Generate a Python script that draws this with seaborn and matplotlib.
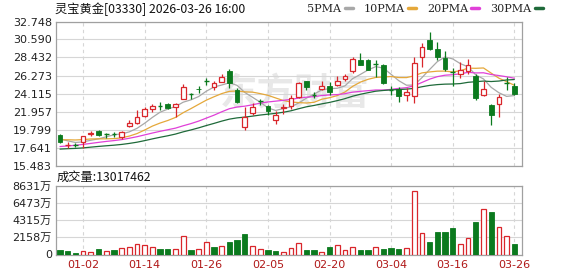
import numpy as np
import pandas as pd
import matplotlib
matplotlib.use("Agg")
import matplotlib.pyplot as plt
from matplotlib.lines import Line2D
import seaborn as sns

sns.set_style("white")
plt.rcParams["font.family"] = ["DejaVu Sans", "Noto Sans CJK SC"]

# ---------------- data ----------------
title = "灵宝黄金[03330] 2026-03-26 16:00"
vol_title = "成交量:13017462"

opens = [19.08, 17.95, 17.98, 18.32, 19.28, 19.56, 19.24, 19.20, 18.92, 20.16,
         20.57, 21.36, 22.28, 22.66, 22.88, 22.48, 23.48, 24.08, 24.68, 25.66,
         24.88, 25.55, 26.84, 24.50, 20.10, 21.83, 23.16, 22.64, 20.96, 22.40,
         22.56, 23.65, 25.60, 23.95, 24.68, 25.04, 25.16, 25.84, 26.84, 28.15,
         28.15, 27.68, 27.55, 24.56, 24.64, 23.96, 23.76, 28.48, 30.55, 29.44,
         28.36, 26.64, 26.50, 26.84, 26.24, 23.96, 22.76, 22.88, 25.40, 25.00]
highs = [19.28, 18.30, 18.20, 19.04, 19.56, 19.76, 19.40, 19.50, 19.64, 20.88,
         22.08, 22.48, 22.88, 23.08, 22.95, 22.95, 25.28, 24.20, 25.00, 26.03,
         25.67, 26.48, 27.04, 24.76, 22.48, 22.96, 23.48, 22.70, 21.96, 22.84,
         23.96, 25.48, 25.65, 24.30, 25.64, 25.44, 26.16, 26.40, 28.50, 28.96,
         28.20, 28.15, 27.60, 25.04, 24.88, 24.76, 28.55, 30.16, 31.43, 30.35,
         29.27, 27.16, 27.95, 28.20, 26.44, 25.64, 22.88, 24.08, 26.08, 25.36]
lows = [18.20, 17.57, 17.72, 17.57, 19.00, 19.00, 18.80, 18.85, 18.68, 20.10,
        20.50, 21.28, 21.88, 22.16, 22.20, 21.35, 23.40, 23.40, 24.20, 25.15,
        24.48, 25.48, 24.76, 22.96, 19.76, 21.56, 22.76, 21.56, 20.44, 21.68,
        22.28, 23.60, 24.56, 23.60, 24.56, 23.96, 25.00, 25.64, 26.60, 27.50,
        26.90, 26.15, 25.30, 23.96, 23.04, 23.16, 22.96, 27.35, 29.36, 28.15,
        26.87, 25.04, 25.96, 26.48, 23.30, 23.76, 20.36, 21.28, 24.56, 23.96]
closes = [18.29, 17.98, 17.95, 18.96, 19.35, 19.16, 19.20, 19.16, 19.49, 20.56,
          21.29, 22.28, 22.64, 22.62, 22.40, 22.83, 24.88, 24.03, 24.60, 25.60,
          25.36, 26.08, 25.36, 23.05, 21.35, 22.48, 23.13, 21.96, 21.48, 22.50,
          23.56, 25.40, 24.84, 23.92, 25.04, 24.28, 25.64, 26.24, 28.28, 27.56,
          26.96, 27.64, 25.36, 24.54, 23.76, 24.24, 27.76, 29.75, 29.44, 28.48,
          27.04, 26.60, 26.90, 27.56, 23.60, 24.64, 21.56, 23.68, 25.36, 24.10]
# closes before the visible window (needed for the moving averages)
prior_closes = [16.5, 16.9, 17.1, 16.7, 16.6, 16.9, 17.0, 16.8, 16.9, 16.9,
                16.6, 16.4, 16.8, 17.0, 16.7, 16.9, 17.2, 17.1, 17.3, 17.6,
                17.9, 18.2, 18.5, 18.6, 19.0, 19.2, 18.9, 18.6, 18.41]
volumes = [510, 380, 170, 380, 254, 635, 423, 508, 761, 973,
           1354, 1184, 973, 635, 635, 635, 2369, 508, 635, 1607,
           930, 1015, 1523, 1861, 2623, 1015, 677, 508, 423, 300,
           834, 1460, 542, 626, 334, 917, 1209, 626, 959, 626,
           542, 1000, 750, 876, 750, 834, 8006, 2710, 1626, 2877,
           2877, 3378, 1334, 2085, 4128, 5713, 5379, 3461, 2377, 1302]

date_tick_pos = [3, 11, 19, 27, 35, 43, 51, 59]
date_tick_labels = ["01-02", "01-14", "01-26", "02-05", "02-20", "03-04", "03-16", "03-26"]
price_ticks = [15.483, 17.641, 19.799, 21.957, 24.115, 26.273, 28.432, 30.590, 32.748]
price_tick_labels = ["15.483", "17.641", "19.799", "21.957", "24.115", "26.273", "28.432", "30.590", "32.748"]
vol_ticks = [0, 2158, 4315, 6473, 8631]
vol_tick_labels = ["0", "2158万", "4315万", "6473万", "8631万"]
ma_periods = [5, 10, 20, 30]
ma_names = ["5PMA", "10PMA", "20PMA", "30PMA"]

# ---------------- styles ----------------
RED = "#d9262b"
GREEN = "#0b7a1e"
ma_colors = ["#a8a8a8", "#e5a83a", "#e040d8", "#1f6a3a"]
GRID = "#d6d6d6"
SPINE = "#a0a0a0"

n = len(closes)
idx = np.arange(n)
all_close = pd.Series(prior_closes + closes)
df = pd.DataFrame({"i": idx, "open": opens, "high": highs, "low": lows,
                   "close": closes, "vol": volumes})
for p, name in zip(ma_periods, ma_names):
    df[name] = all_close.rolling(p).mean().iloc[len(prior_closes):].to_numpy()
prev_close = all_close.shift(1).iloc[len(prior_closes):].to_numpy()
df["vol_up"] = df["close"].to_numpy() >= prev_close

W, H = 578, 276
fig = plt.figure(figsize=(W / 100, H / 100), dpi=100)
ax = fig.add_axes([56 / W, 1 - 165.5 / H, (522 - 56) / W, (165.5 - 21.5) / H])
axv = fig.add_axes([56 / W, 1 - 254.5 / H, (522 - 56) / W, (254.5 - 186) / H])

XMIN, XMAX = -0.52, 60.0

# watermark
ax.text(30.5, 24.0, "东方财富", fontsize=27, color="#e8e8e8", ha="center", va="center",
        family=["Noto Sans CJK SC"], fontweight="bold", zorder=0, style="italic")

# grid
for a in (ax, axv):
    for xp in date_tick_pos:
        a.axvline(xp, color=GRID, lw=0.8, ls=(0, (3, 3)), zorder=0.5)
for yp in price_ticks:
    ax.axhline(yp, color=GRID, lw=0.8, zorder=0.5)
for yp in vol_ticks:
    axv.axhline(yp, color=GRID, lw=0.8, zorder=0.5)

# MA lines
for name, col in zip(ma_names, ma_colors):
    sns.lineplot(data=df, x="i", y=name, ax=ax, color=col, lw=0.9, zorder=2)

# candles
bw = 0.62
for r in df.itertuples():
    o, h, l, c = r.open, r.high, r.low, r.close
    top, bot = max(o, c), min(o, c)
    if abs(c - o) < 0.06:
        col = RED if c >= o else GREEN
        ax.vlines(r.i, l, h, color=col, lw=0.9, zorder=3)
        ax.hlines(o, r.i - bw / 2, r.i + bw / 2, color=col, lw=1.0, zorder=3)
    elif c > o:
        ax.vlines(r.i, l, bot, color=RED, lw=0.9, zorder=3)
        ax.vlines(r.i, top, h, color=RED, lw=0.9, zorder=3)
        ax.bar(r.i, top - bot, bottom=bot, width=bw, facecolor="white",
               edgecolor=RED, lw=0.9, zorder=3)
    else:
        ax.vlines(r.i, l, h, color=GREEN, lw=0.9, zorder=3)
        ax.bar(r.i, top - bot, bottom=bot, width=bw, facecolor=GREEN,
               edgecolor=GREEN, lw=0.6, zorder=3)

# volume bars
up = df[df["vol_up"]]
dn = df[~df["vol_up"]]
axv.bar(dn["i"], dn["vol"], width=0.68, facecolor=GREEN, edgecolor=GREEN,
        lw=0.6, zorder=3)
axv.bar(up["i"], up["vol"], width=0.62, facecolor="white", edgecolor=RED,
        lw=0.9, zorder=3)

# axes formatting
ax.set_xlim(XMIN, XMAX)
axv.set_xlim(XMIN, XMAX)
ax.set_ylim(price_ticks[0], price_ticks[-1])
axv.set_ylim(0, vol_ticks[-1])
ax.set_yticks(price_ticks)
ax.set_yticklabels(price_tick_labels)
ax.set_xticks([])
axv.set_yticks(vol_ticks)
axv.set_yticklabels(vol_tick_labels)
axv.set_xticks(date_tick_pos)
axv.set_xticklabels(date_tick_labels)
for a in (ax, axv):
    a.set_xlabel("")
    a.set_ylabel("")
    a.tick_params(length=0, pad=3, labelsize=8, colors="#222222")
    for s in a.spines.values():
        s.set_color(SPINE)
        s.set_linewidth(0.9)
axv.tick_params(axis="x", colors="#b01818", pad=4)

# texts
fig.text(55 / W, 1 - 9 / H, title, fontsize=8.8, va="center", ha="left",
         family=["Noto Sans CJK SC", "DejaVu Sans"], color="#111111")
fig.text(57 / W, 1 - 177 / H, vol_title, fontsize=8.8, va="center", ha="left",
         family=["Noto Sans CJK SC", "DejaVu Sans"], color="#111111")
handles = [Line2D([], [], color=c, lw=2.5) for c in ma_colors]
fig.legend(handles, ma_names, loc="center", bbox_to_anchor=(425 / W, 1 - 9 / H),
           ncol=4, frameon=False, markerfirst=False, handlelength=0.7,
           handletextpad=0.3, columnspacing=1.0,
           prop={"family": ["DejaVu Serif"], "size": 8})

fig.savefig("out.png", dpi=100)
